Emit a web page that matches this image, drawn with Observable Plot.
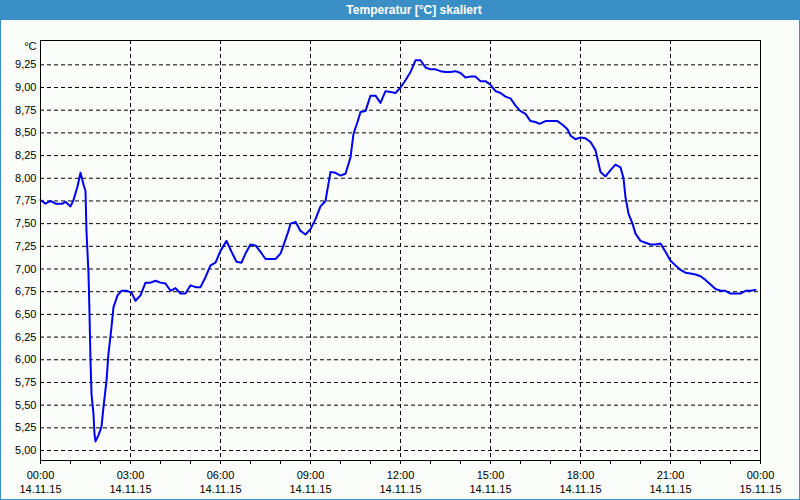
<!DOCTYPE html>
<html><head><meta charset="utf-8">
<script src="https://cdn.jsdelivr.net/npm/d3@7"></script>
<script src="https://cdn.jsdelivr.net/npm/@observablehq/plot@0.6"></script>
<style>
html,body{margin:0;padding:0;}
body{width:800px;height:500px;position:relative;overflow:hidden;background:#fbfdfb;font-family:"Liberation Sans",Arial,sans-serif;}
#border{position:absolute;left:0;top:0;width:800px;height:500px;box-sizing:border-box;border:1px solid #3b8fc7;pointer-events:none;z-index:2}
#title{position:absolute;left:0;top:0;width:800px;height:20px;background:#3b8fc7;}
#title div{position:absolute;left:14px;top:0;width:800px;text-align:center;color:#fff;font-weight:bold;font-size:12px;line-height:20px;}
#chart{position:absolute;left:0;top:20px;}
</style></head>
<body>
<div id="title"><div>Temperatur [°C] skaliert</div></div>
<div id="chart"></div>
<div id="border"></div>
<script>
// minutes after 00:00 on 14.11.15
const minutes = [0,10,20,30,44,50,60,66,74,80,86,90,92,96,98,100,102,106,108,110,116,122,126,132,136,142,146,154,162,172,182,190,200,210,220,230,240,250,260,270,280,290,300,310,320,330,340,350,360,372,382,392,402,410,420,430,440,450,470,480,486,496,500,510,520,530,540,550,560,570,580,590,600,610,620,626,634,640,650,660,670,680,690,700,710,720,730,740,750,760,770,780,790,800,810,820,830,840,850,860,870,880,890,900,910,920,930,940,950,960,970,980,990,998,1010,1020,1034,1044,1054,1060,1070,1080,1090,1100,1110,1120,1130,1140,1150,1160,1166,1170,1176,1184,1190,1200,1210,1220,1230,1240,1250,1260,1270,1280,1290,1300,1310,1320,1330,1340,1350,1360,1370,1380,1390,1400,1410,1420,1430];
const temps = [7.76,7.72,7.75,7.72,7.72,7.74,7.69,7.76,7.91,8.06,7.93,7.86,7.41,6.95,6.51,5.99,5.62,5.40,5.18,5.10,5.17,5.26,5.48,5.77,6.07,6.36,6.58,6.71,6.76,6.76,6.74,6.65,6.71,6.85,6.85,6.87,6.85,6.84,6.76,6.79,6.73,6.73,6.82,6.80,6.80,6.91,7.04,7.07,7.20,7.31,7.19,7.08,7.07,7.17,7.27,7.26,7.19,7.11,7.11,7.17,7.26,7.42,7.50,7.52,7.42,7.38,7.44,7.55,7.69,7.75,8.07,8.06,8.03,8.05,8.23,8.49,8.62,8.73,8.74,8.91,8.91,8.83,8.96,8.95,8.94,9.00,9.08,9.17,9.30,9.30,9.22,9.20,9.20,9.18,9.17,9.17,9.18,9.16,9.11,9.12,9.12,9.07,9.07,9.03,8.96,8.94,8.90,8.88,8.80,8.74,8.71,8.63,8.62,8.60,8.63,8.63,8.63,8.59,8.54,8.47,8.43,8.45,8.44,8.40,8.31,8.07,8.02,8.09,8.15,8.12,8.00,7.79,7.61,7.50,7.39,7.31,7.29,7.27,7.27,7.28,7.19,7.09,7.04,6.99,6.96,6.95,6.94,6.92,6.88,6.83,6.78,6.76,6.76,6.73,6.73,6.73,6.76,6.76,6.77];
const labelHours = [0,3,6,9,12,15,18,21,24];
const timeLabels = ["00:00","03:00","06:00","09:00","12:00","15:00","18:00","21:00","00:00"];
const dateLabels = ["14.11.15","14.11.15","14.11.15","14.11.15","14.11.15","14.11.15","14.11.15","14.11.15","15.11.15"];
const gridHours = [3,6,9,12,15,18,21];
const tickHours = [0,1,2,3,4,5,6,7,8,9,10,11,12,13,14,15,16,17,18,19,20,21,22,23,24];
const yTicks = [5.00,5.25,5.50,5.75,6.00,6.25,6.50,6.75,7.00,7.25,7.50,7.75,8.00,8.25,8.50,8.75,9.00,9.25];
const yUnit = "°C";

const data = minutes.map((m, i) => ({h: m / 60, t: temps[i]}));

const chart = Plot.plot({
  width: 800, height: 480,
  marginLeft: 40, marginRight: 40, marginTop: 20, marginBottom: 40,
  style: {background: "transparent", fontFamily: "Liberation Sans, Arial, sans-serif", fontSize: "11px", color: "black"},
  x: {domain: [0, 24], label: null},
  y: {domain: [4.89, 9.518], label: null},
  marks: [
    Plot.gridY(yTicks, {stroke: "black", strokeOpacity: 1, strokeDasharray: "4,3"}),
    Plot.gridX(gridHours, {stroke: "black", strokeOpacity: 1, strokeDasharray: "4,3"}),
    Plot.line(data, {x: "h", y: "t", stroke: "#0000f0", strokeWidth: 2}),
    Plot.frame({stroke: "black"}),
    Plot.axisY(yTicks, {tickSize: 0, tickPadding: 4, tickFormat: d => d.toFixed(2).replace(".", ",")}),
    Plot.axisX(tickHours, {tickSize: 4, tickFormat: () => ""}),
    Plot.text(labelHours, {x: d => d, text: (d, i) => timeLabels[i] + "\n" + dateLabels[i], frameAnchor: "bottom", lineAnchor: "top", dy: 9, lineHeight: 1.27, fill: "black"}),
    Plot.text([yUnit], {text: d => d, frameAnchor: "top-left", dx: -4, dy: 6, textAnchor: "end", lineAnchor: "middle", fill: "black"})
  ]
});
document.getElementById("chart").appendChild(chart);
</script>
</body></html>
